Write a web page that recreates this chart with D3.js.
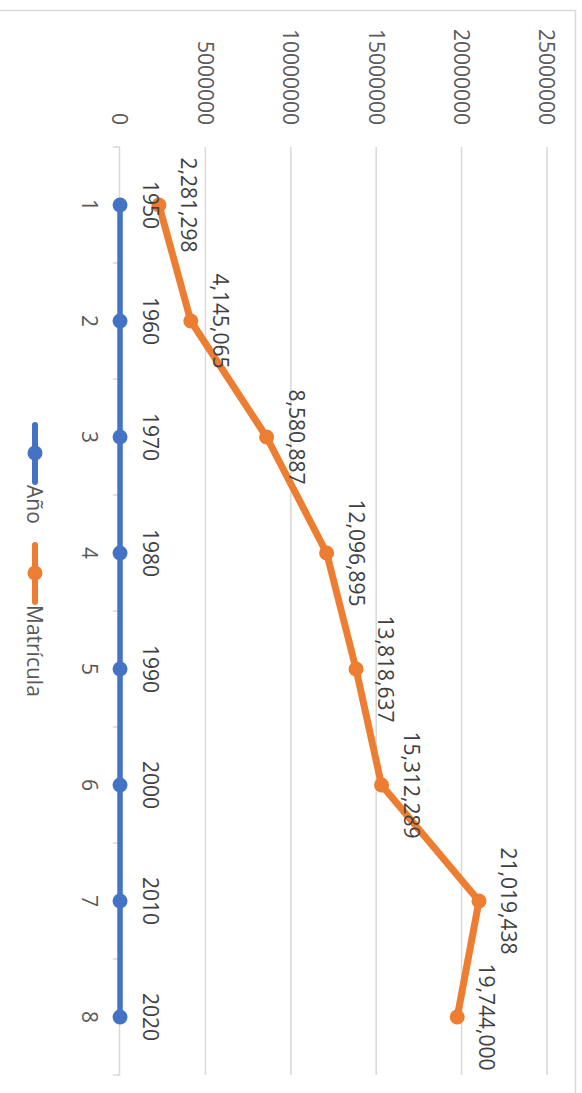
<!DOCTYPE html>
<html><head><meta charset="utf-8">
<script src="https://cdn.jsdelivr.net/npm/d3@7"></script>
<style>html,body{margin:0;padding:0;background:#fff;}svg{display:block;}</style>
</head><body>
<script>
const categories = [1, 2, 3, 4, 5, 6, 7, 8];
const anio = [1950, 1960, 1970, 1980, 1990, 2000, 2010, 2020];
const matricula = [2281298, 4145065, 8580887, 12096895, 13818637, 15312289, 21019438, 19744000];
const valueTicks = [0, 5000000, 10000000, 15000000, 20000000, 25000000];
const seriesNames = ["Año", "Matrícula"];
const seriesColors = ["#4472C4", "#ED7D31"];

const IMG_W = 582, IMG_H = 1093;
const W = IMG_H, H = IMG_W; // unrotated chart dims
const FONT = "'Open Sans', 'Noto Sans', sans-serif";
const TXT = "#595959";

const svg = d3.select("body").append("svg").attr("width", IMG_W).attr("height", IMG_H);
const g = svg.append("g").attr("transform", `translate(${IMG_W},0) rotate(90)`);

// chart border
g.append("rect").attr("x", 10.5).attr("y", 6.5).attr("width", 1300).attr("height", 800)
  .attr("fill", "none").attr("stroke", "#d9d9d9").attr("stroke-width", 1.5);

const x = d3.scaleBand().domain(categories).range([147, 1075]).padding(0);
const cx = c => x(c) + x.bandwidth() / 2;
const y = d3.scaleLinear().domain([0, 25000000]).range([462, 35]);

// gridlines
g.append("g").selectAll("line").data(valueTicks.filter(v => v > 0)).join("line")
  .attr("x1", 147).attr("x2", 1075).attr("y1", d => y(d)).attr("y2", d => y(d))
  .attr("stroke", "#d9d9d9").attr("stroke-width", 1.5);

// value axis labels
g.append("g").selectAll("text").data(valueTicks).join("text")
  .attr("x", 125).attr("y", d => y(d)).attr("dy", "0.36em")
  .attr("text-anchor", "end").attr("font-family", FONT).attr("font-size", 21).attr("fill", TXT)
  .text(d => d3.format("d")(d));

// category axis
const xAxis = d3.axisBottom(x).tickSize(0).tickPadding(0);
const ax = g.append("g").attr("transform", `translate(0,${y(0)})`).call(xAxis);
ax.select(".domain").attr("stroke", "#d9d9d9").attr("stroke-width", 1.5);
ax.selectAll(".tick text").remove();
const bounds = categories.map(c => x(c)).concat([x(categories[categories.length - 1]) + x.bandwidth()]);
ax.selectAll(".btick").data(bounds).join("line").attr("class", "btick")
  .attr("x1", d => d).attr("x2", d => d).attr("y1", 0).attr("y2", 7)
  .attr("stroke", "#d9d9d9").attr("stroke-width", 1.5);
g.append("g").selectAll("text").data(categories).join("text")
  .attr("x", d => cx(d)).attr("y", 500)
  .attr("text-anchor", "middle").attr("font-family", FONT).attr("font-size", 21).attr("fill", TXT)
  .text(d => d);

// series
const series = [anio, matricula];
series.forEach((vals, i) => {
  const pts = categories.map((c, j) => [cx(c), y(vals[j])]);
  g.append("path").attr("d", d3.line()(pts)).attr("fill", "none")
    .attr("stroke", seriesColors[i]).attr("stroke-width", i === 0 ? 5.5 : 7)
    .attr("stroke-linejoin", "round").attr("stroke-linecap", "round");
  g.append("g").selectAll("circle").data(pts).join("circle")
    .attr("cx", d => d[0]).attr("cy", d => d[1]).attr("r", 7.5).attr("fill", seriesColors[i]);
});

// data labels
const fmtComma = d3.format(",");
g.append("g").selectAll("text").data(anio).join("text")
  .attr("x", (d, j) => cx(categories[j])).attr("y", d => y(d) - 23)
  .attr("text-anchor", "middle").attr("font-family", FONT).attr("font-size", 21).attr("fill", "#404040")
  .text(d => d);
g.append("g").selectAll("text").data(matricula).join("text")
  .attr("x", (d, j) => cx(categories[j])).attr("y", d => y(d) - 22)
  .attr("text-anchor", "middle").attr("font-family", FONT).attr("font-size", 21).attr("fill", "#404040")
  .text(d => fmtComma(d));

// legend
const legendX = [425, 545];
seriesNames.forEach((name, i) => {
  const lg = g.append("g");
  lg.append("line").attr("x1", legendX[i]).attr("x2", legendX[i] + 57).attr("y1", 547).attr("y2", 547)
    .attr("stroke", seriesColors[i]).attr("stroke-width", 6).attr("stroke-linecap", "round");
  lg.append("circle").attr("cx", legendX[i] + 28).attr("cy", 547).attr("r", 7.5).attr("fill", seriesColors[i]);
  lg.append("text").attr("x", legendX[i] + 60).attr("y", 547).attr("dy", "0.36em")
    .attr("font-family", FONT).attr("font-size", 21).attr("fill", TXT).text(name);
});
</script>
</body></html>
